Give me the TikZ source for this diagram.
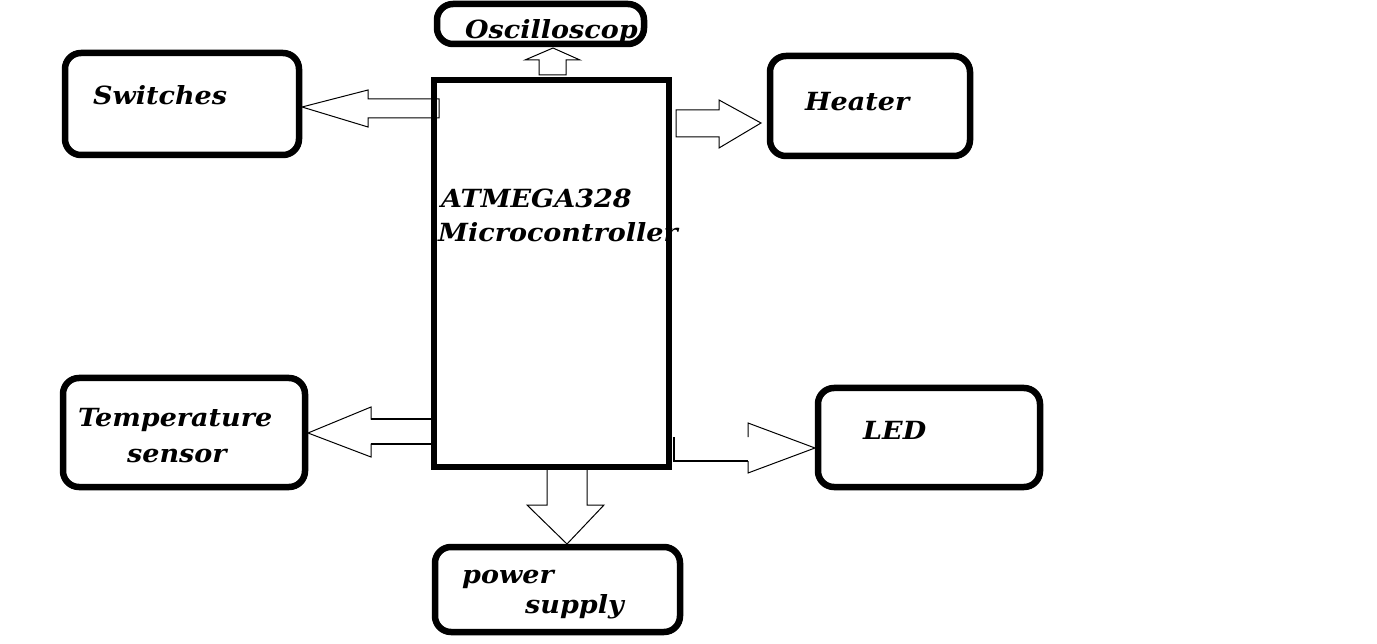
\documentclass[tikz,border=0pt]{standalone}
\usepackage{fontspec}
\setmainfont{DejaVu Serif}
\newfontfamily\lblfont{DejaVu Serif}[FakeStretch=1.08]
\begin{document}
\begin{tikzpicture}[x=1pt,y=-1pt,
  blk/.style={draw=black,line width=6.5pt,rounded corners=16pt},
  mcu/.style={draw=black,line width=6.5pt},
  barrow/.style={draw=black,line width=1pt,line join=miter},
  lbl/.style={anchor=base west,inner sep=0pt,font=\lblfont\bfseries\itshape\fontsize{25}{29}\selectfont}]
\useasboundingbox[fill=white] (0,0) rectangle (1377,644);
% boxes
\draw[blk] (65,53) rectangle (299,155);
\draw[blk] (437,4) rectangle (644,44);
\draw[blk] (770,56) rectangle (970,156);
\draw[blk] (63,378) rectangle (305,487);
\draw[blk] (818,388) rectangle (1040,487);
\draw[blk] (435,547) rectangle (680,632);
% labels
\node[lbl] (sw) at (93,105) {Switches};
\node[lbl] (osc) at (465,39) {Oscilloscop};
\node[lbl] (ht) at (805,111) {Heater};
\node[lbl] (at) at (441,208) {ATMEGA328};
\node[lbl] (mc) at (438,242) {Microcontroller};
\node[lbl] (tp) at (78,427) {Temperature};
\node[lbl] (sn) at (127,462) {sensor};
\node[lbl] (led) at (863,439) {LED};
\node[lbl] (pw) at (462,583) {power};
\node[lbl] (su) at (525,613) {supply};
\draw[mcu] (434,80) rectangle (669,467);
% block arrows
\draw[barrow] (302,107) -- (368,90) -- (368,99) -- (439,99) -- (439,118) -- (368,118) -- (368,127) -- cycle;
\draw[barrow] (553,48) -- (580,60) -- (566,60) -- (566,75) -- (539,75) -- (539,60) -- (525,60) -- cycle;
\draw[barrow] (676,110) -- (719,110) -- (719,100) -- (761,123) -- (719,148) -- (719,137) -- (676,137) -- cycle;
\draw[barrow] (431,419) -- (371,419) -- (371,407) -- (308,433) -- (371,457) -- (371,444) -- (431,444);
\draw[line width=2.5pt] (371,419) -- (431,419) (371,444) -- (431,444);
\draw[barrow] (547,470) -- (547,505) -- (527,505) -- (567,544) -- (604,505) -- (587,505) -- (587,470);
\draw[barrow] (748,437) -- (748,423) -- (815,448) -- (748,473) -- (748,461);
\draw[line width=2.2pt] (748,461) -- (674,461) -- (674,437);
\end{tikzpicture}
\end{document}
